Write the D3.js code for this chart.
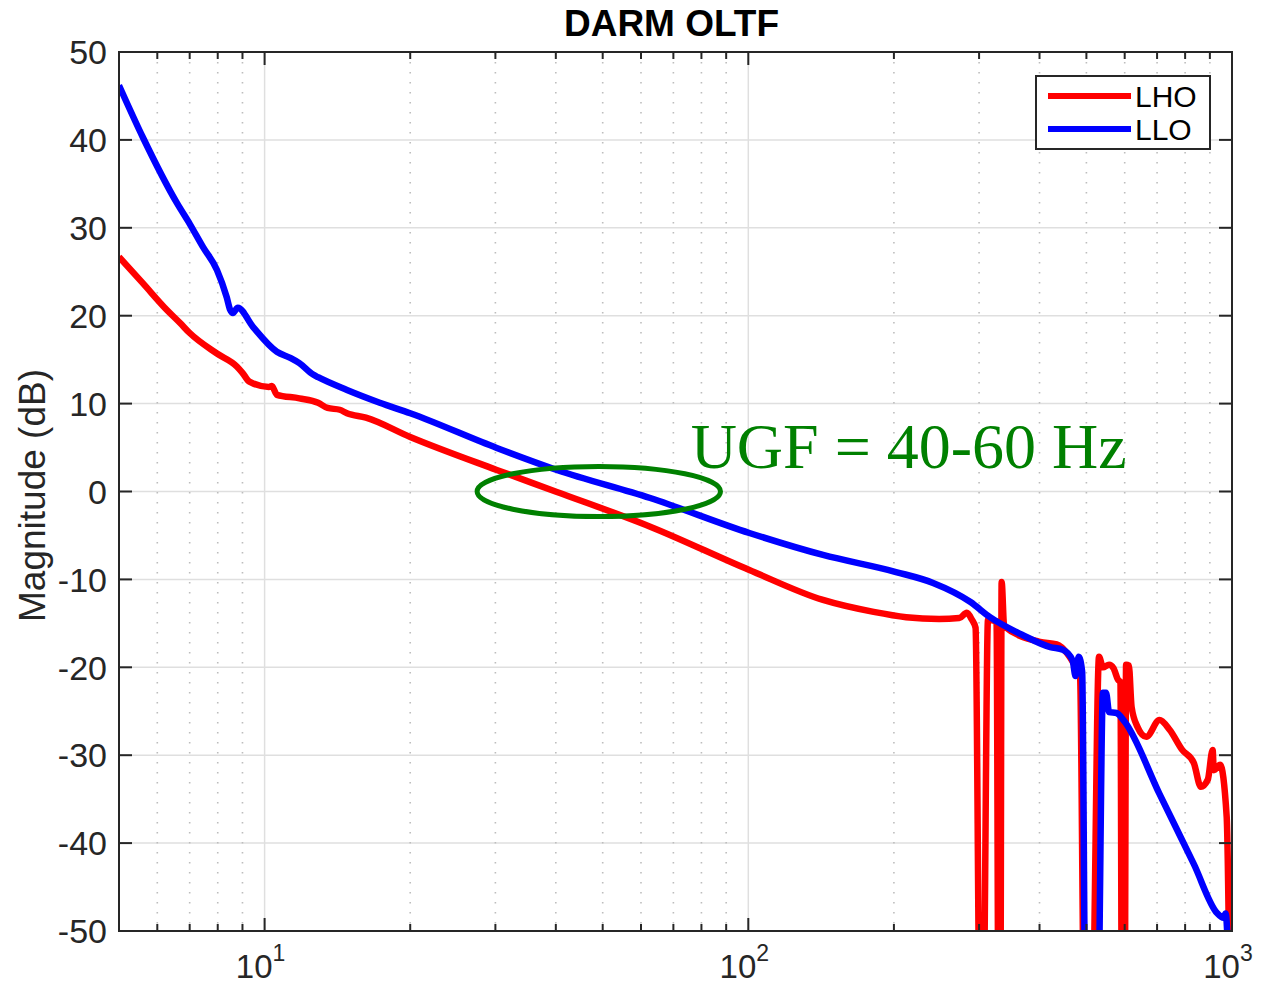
<!DOCTYPE html>
<html><head><meta charset="utf-8">
<script src="https://cdn.jsdelivr.net/npm/d3@7/dist/d3.min.js"></script>
<style>body{margin:0;background:#fff}svg{display:block}</style>
</head><body>
<svg id="chart" width="1268" height="988"></svg>
<script>
// ---- data ----
const chartTitle = "DARM OLTF";
const yAxisLabel = "Magnitude (dB)";
const seriesNames = ["LHO", "LLO"];
const seriesColors = ["#ff0000", "#0000ff"];
const annotationText = "UGF = 40-60 Hz";
const ugfRange = [27.5, 87.6];   // Hz, ellipse horizontal extent
const ugfDbRange = [-2.85, 2.85]; // dB, ellipse vertical extent
const annotationPos = [76.0, 2.65]; // Hz, dB (text baseline start)

const yTickValues = [-50, -40, -30, -20, -10, 0, 10, 20, 30, 40, 50];
const xDecades = [10, 100, 1000];
const xDomain = [5, 1000];
const yDomain = [-50, 50];

const lhoFreq = [5, 5.6, 6.28, 6.68, 7.01, 7.97, 8.77, 9.0, 9.3, 10.2, 10.35, 10.6, 11.8, 12.9, 13.5, 14.3, 14.8, 16.2, 20.0, 30.2, 40.2, 62.7, 100.5, 142.7, 181.6, 212, 248, 273, 283, 290, 295, 301, 306, 313, 326, 329, 332, 334, 338, 401, 434, 456, 470, 485, 495, 514, 531, 541, 557, 569, 581, 588, 592, 600, 604, 612, 620, 638, 665, 708, 743, 789, 834, 862, 891, 912, 917, 945, 975, 990];
const lhoDb   = [26.7, 23.7, 20.65, 19.2, 18.0, 15.7, 14.2, 13.5, 12.5, 11.9, 12.0, 11.0, 10.6, 10.1, 9.5, 9.3, 8.9, 8.4, 6.2, 2.45, -0.05, -4.0, -8.93, -12.34, -13.7, -14.3, -14.5, -14.4, -13.8, -14.6, -15.5, -60, -60, -14.6, -14.8, -60, -60, -10.3, -15.3, -17.1, -17.4, -18.4, -19.5, -21.0, -60, -60, -18.8, -20.0, -19.7, -20.1, -21.4, -21.7, -60, -60, -19.7, -19.8, -24.5, -26.8, -27.9, -26.0, -27.1, -29.4, -30.9, -33.6, -32.8, -29.4, -31.7, -31.1, -37.0, -60];

const lloFreq = [5, 5.6, 6.59, 7.01, 7.46, 7.97, 8.35, 8.49, 8.6, 8.8, 9.47, 10.6, 11.3, 11.8, 12.6, 12.9, 14.8, 17.3, 20.0, 30.2, 40.2, 62.7, 100.5, 142.7, 202, 241, 288, 316, 368, 421, 447, 468, 475, 482, 490, 498, 528, 541, 549, 557, 577, 600, 708, 834, 931, 960, 970, 990];
const lloDb   = [46.2, 40.3, 32.8, 30.4, 27.8, 25.2, 22.1, 20.65, 20.3, 20.9, 18.7, 15.9, 15.2, 14.6, 13.3, 13.0, 11.55, 10.1, 8.9, 4.95, 2.45, -0.74, -4.72, -7.22, -9.16, -10.4, -12.57, -14.3, -16.3, -17.7, -18.0, -19.2, -21.0, -18.8, -20.5, -60, -60, -22.9, -22.9, -25.1, -25.2, -26.2, -34.4, -42.4, -47.95, -48.5, -48.0, -60];

// ---- layout ----
const L = 119, R = 1232, T = 52, B = 931;
const axisColor = "#262626";
const sans = "Liberation Sans, Arial, Helvetica, sans-serif";
const svg = d3.select("#chart");
const x = d3.scaleLog().domain(xDomain).range([L, R]);
const y = d3.scaleLinear().domain(yDomain).range([B, T]);

// minor tick values
const minorTicks = [];
[1, 10, 100].forEach(dec => { for (let k = 2; k <= 9; k++) { const v = k * dec; if (v > xDomain[0] && v < xDomain[1] && !xDecades.includes(v)) minorTicks.push(v); } });

// grid
const grid = svg.append("g");
grid.selectAll("line.ym").data(yTickValues.filter(v => v > yDomain[0] && v < yDomain[1])).join("line")
  .attr("x1", L).attr("x2", R).attr("y1", d => y(d)).attr("y2", d => y(d))
  .attr("stroke", "#dfdfdf").attr("stroke-width", 1.5);
grid.selectAll("line.xm").data(xDecades.filter(v => v < xDomain[1])).join("line")
  .attr("x1", d => x(d)).attr("x2", d => x(d)).attr("y1", T).attr("y2", B)
  .attr("stroke", "#dfdfdf").attr("stroke-width", 1.5);
grid.selectAll("line.xn").data(minorTicks).join("line")
  .attr("x1", d => x(d)).attr("x2", d => x(d)).attr("y1", T).attr("y2", B)
  .attr("stroke", "#bdbdbd").attr("stroke-width", 1.6).attr("stroke-dasharray", "1.6,8.4");

// clip
svg.append("clipPath").attr("id", "clip").append("rect")
  .attr("x", L).attr("y", T - 4).attr("width", R - L + 4).attr("height", B - T + 4);

const line = d3.line().x(d => x(d[0])).y(d => y(d[1])).curve(d3.curveMonotoneX);
const series = [d3.zip(lhoFreq, lhoDb), d3.zip(lloFreq, lloDb)];
const lines = svg.append("g").attr("clip-path", "url(#clip)");
series.forEach((s, i) => {
  lines.append("path").datum(s).attr("d", line)
    .attr("fill", "none").attr("stroke", seriesColors[i]).attr("stroke-width", 6.5)
    .attr("stroke-linejoin", "miter").attr("stroke-miterlimit", 4);
});

// axes box
const ax = svg.append("g");
ax.append("rect").attr("x", L).attr("y", T).attr("width", R - L).attr("height", B - T)
  .attr("fill", "none").attr("stroke", axisColor).attr("stroke-width", 2);
// y ticks
yTickValues.forEach(v => {
  ax.append("line").attr("x1", L).attr("x2", L + 13).attr("y1", y(v)).attr("y2", y(v)).attr("stroke", axisColor).attr("stroke-width", 2);
  ax.append("line").attr("x1", R).attr("x2", R - 13).attr("y1", y(v)).attr("y2", y(v)).attr("stroke", axisColor).attr("stroke-width", 2);
  ax.append("text").attr("x", L - 12).attr("y", y(v)).attr("dy", "0.36em")
    .attr("text-anchor", "end").attr("font-family", sans)
    .attr("font-size", 34).attr("fill", axisColor).text(v);
});
// x ticks
xDecades.forEach(v => {
  ax.append("line").attr("x1", x(v)).attr("x2", x(v)).attr("y1", B).attr("y2", B - 13).attr("stroke", axisColor).attr("stroke-width", 2);
  ax.append("line").attr("x1", x(v)).attr("x2", x(v)).attr("y1", T).attr("y2", T + 13).attr("stroke", axisColor).attr("stroke-width", 2);
  const t = ax.append("text").attr("x", x(v) - 4).attr("y", 978).attr("text-anchor", "middle")
    .attr("font-family", sans).attr("font-size", 33).attr("fill", axisColor);
  t.append("tspan").text("10");
  t.append("tspan").attr("dy", -17).attr("font-size", 23).text(Math.round(Math.log10(v)));
});
minorTicks.forEach(v => {
  ax.append("line").attr("x1", x(v)).attr("x2", x(v)).attr("y1", B).attr("y2", B - 7).attr("stroke", axisColor).attr("stroke-width", 2);
  ax.append("line").attr("x1", x(v)).attr("x2", x(v)).attr("y1", T).attr("y2", T + 7).attr("stroke", axisColor).attr("stroke-width", 2);
});

// title & label
svg.append("text").attr("x", (L + R) / 2 - 4).attr("y", 36).attr("text-anchor", "middle")
  .attr("font-family", sans).attr("font-weight", "bold")
  .attr("font-size", 37).attr("fill", "#000").text(chartTitle);
svg.append("text").attr("transform", `translate(45,${(T + B) / 2 + 4}) rotate(-90)`).attr("text-anchor", "middle")
  .attr("font-family", sans).attr("font-size", 37).attr("fill", axisColor).text(yAxisLabel);

// annotation
const cx = x(Math.sqrt(ugfRange[0] * ugfRange[1]));
svg.append("ellipse").attr("cx", cx).attr("cy", y((ugfDbRange[0] + ugfDbRange[1]) / 2))
  .attr("rx", (x(ugfRange[1]) - x(ugfRange[0])) / 2).attr("ry", (y(ugfDbRange[0]) - y(ugfDbRange[1])) / 2)
  .attr("fill", "none").attr("stroke", "#008000").attr("stroke-width", 5);
svg.append("text").attr("x", x(annotationPos[0])).attr("y", y(annotationPos[1]))
  .attr("font-family", "Liberation Serif, Times New Roman, serif").attr("font-size", 64)
  .attr("fill", "#008000").text(annotationText);

// legend
const lg = svg.append("g");
lg.append("rect").attr("x", 1036).attr("y", 76).attr("width", 174).attr("height", 73)
  .attr("fill", "#fff").attr("stroke", axisColor).attr("stroke-width", 2);
seriesNames.forEach((n, i) => {
  const yy = 96 + i * 33;
  lg.append("line").attr("x1", 1048).attr("x2", 1131).attr("y1", yy).attr("y2", yy)
    .attr("stroke", seriesColors[i]).attr("stroke-width", 6);
  lg.append("text").attr("x", 1135).attr("y", yy + 11).attr("font-family", sans)
    .attr("font-size", 30).attr("fill", "#000").text(n);
});
</script>
</body></html>
